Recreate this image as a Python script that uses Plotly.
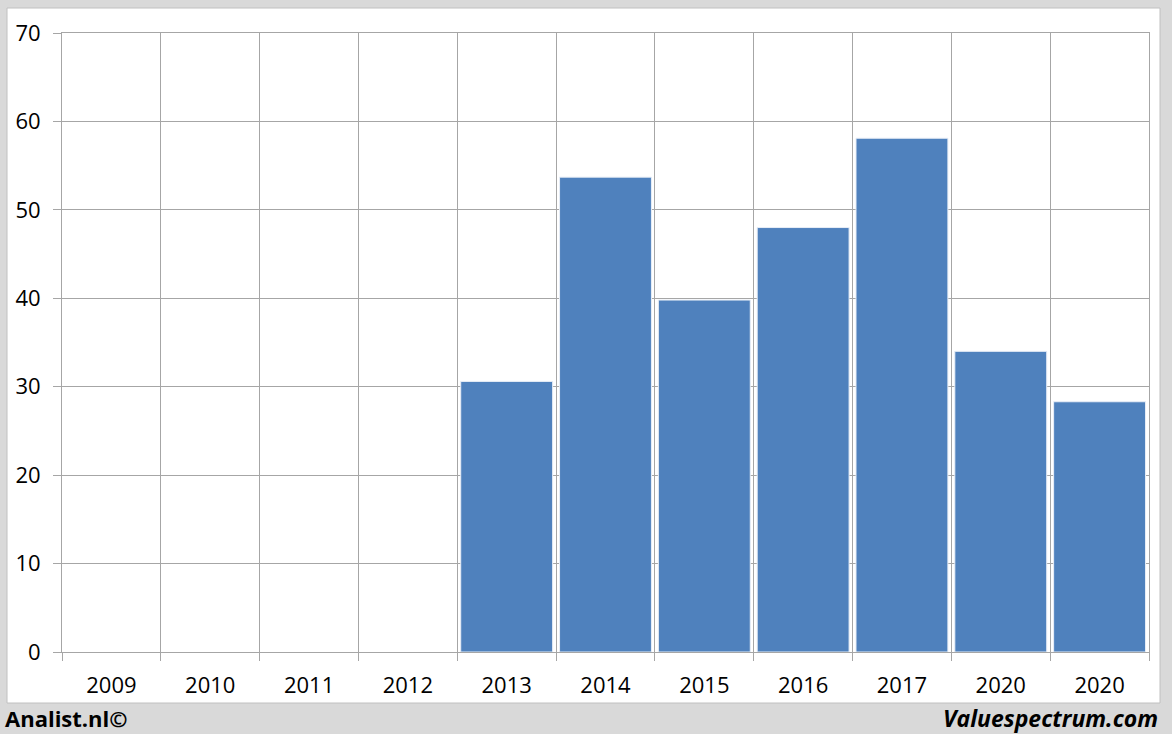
import plotly.graph_objects as go

years = ["2009", "2010", "2011", "2012", "2013", "2014", "2015", "2016", "2017", "2020", "2020"]
values = [None, None, None, None, 30.6, 53.7, 39.8, 48.0, 58.1, 34.0, 28.3]
y_ticks = [0, 10, 20, 30, 40, 50, 60, 70]

pos = list(range(len(years)))
bounds = [p - 0.5 for p in pos] + [pos[-1] + 0.5]

W, H = 1172, 734
L, R, T, B = 62, 23, 33, 82
pw, ph = W - L - R, H - T - B

def px_x(px):
    return (px - L) / pw

def px_y(py):
    return (H - B - py) / ph

grid = "#a6a6a6"
font = "Open Sans"

fig = go.Figure()
fig.add_trace(go.Bar(
    x=pos, y=values,
    marker=dict(color="#4f81bd", line=dict(color="#e8eef7", width=1)),
    width=0.93,
))

fig.update_layout(
    width=W, height=H,
    margin=dict(l=L, r=R, t=T, b=B),
    paper_bgcolor="#d9d9d9",
    plot_bgcolor="white",
    showlegend=False,
    font=dict(family=font, size=22, color="black"),
    xaxis=dict(
        range=[bounds[0], bounds[-1]],
        tickmode="array", tickvals=pos, ticktext=years,
        showgrid=False, ticks="", ticklabelstandoff=14,
        zeroline=False,
        showline=True, linecolor=grid, linewidth=1, mirror=True,
        minor=dict(tickmode="array", tickvals=bounds, showgrid=True,
                   gridcolor=grid, gridwidth=1, ticks="outside",
                   ticklen=8, tickcolor=grid),
    ),
    yaxis=dict(
        range=[0, 70],
        tickmode="array", tickvals=y_ticks,
        showgrid=True, gridcolor=grid, gridwidth=1,
        ticks="outside", ticklen=8, tickcolor=grid,
        ticklabelstandoff=8,
        zeroline=False,
        showline=True, linecolor=grid, linewidth=1, mirror=True,
    ),
    shapes=[dict(
        type="rect", xref="paper", yref="paper", layer="below",
        x0=px_x(7), x1=px_x(1160), y0=px_y(703), y1=px_y(8),
        fillcolor="white", line=dict(color="#c0c0c0", width=1),
    )],
    annotations=[
        dict(text="<b>Analist.nl©</b>", xref="paper", yref="paper",
             x=px_x(3), y=px_y(718), xanchor="left", yanchor="middle",
             showarrow=False, font=dict(family=font, size=22, color="black")),
        dict(text="<b><i>Valuespectrum.com</i></b>", xref="paper", yref="paper",
             x=px_x(1160), y=px_y(718), xanchor="right", yanchor="middle",
             showarrow=False, font=dict(family=font, size=23, color="black")),
    ],
)

fig.write_html("out.html", config={"displayModeBar": False},
               post_script="document.body.style.margin='0';document.body.style.overflow='hidden';")
